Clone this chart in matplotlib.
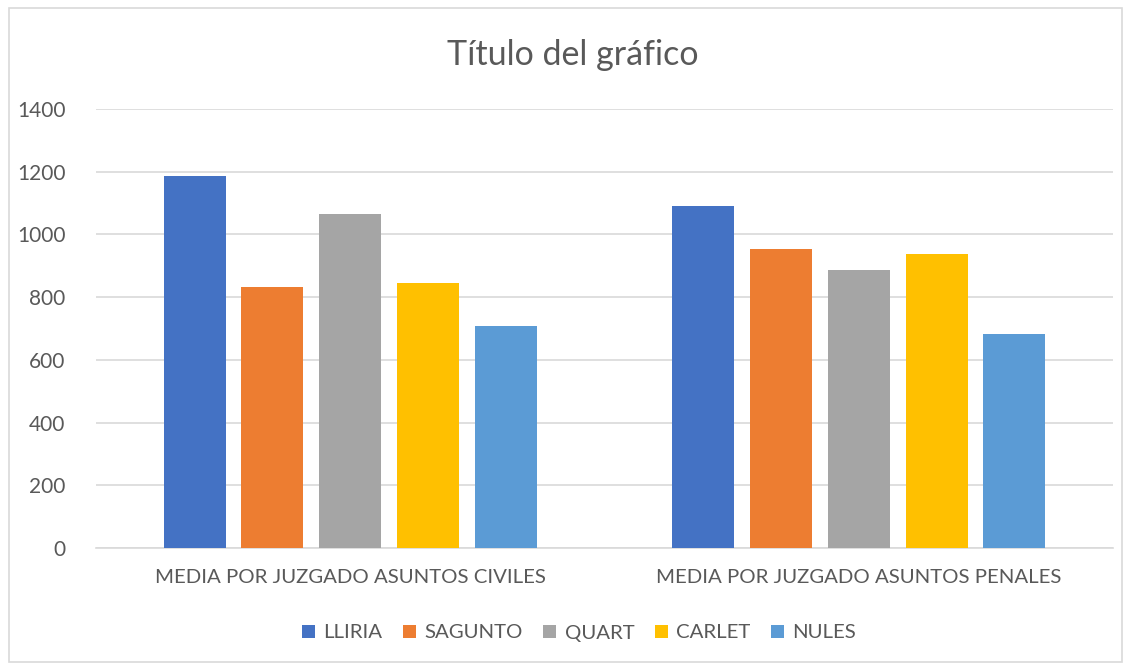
import matplotlib.pyplot as plt
import numpy as np
from matplotlib.patches import Rectangle

plt.rcParams['font.family'] = ['Lato', 'DejaVu Sans']

categories = ['MEDIA POR JUZGADO ASUNTOS CIVILES', 'MEDIA POR JUZGADO ASUNTOS PENALES']
series = ['LLIRIA', 'SAGUNTO', 'QUART', 'CARLET', 'NULES']
lliria = [1185, 1091]
sagunto = [833, 952]
quart = [1066, 886]
carlet = [844, 938]
nules = [707, 682]
colors = ['#4472C4', '#ED7D31', '#A5A5A5', '#FFC000', '#5B9BD5']

text_col = '#595959'
fig = plt.figure(figsize=(11.31, 6.66), dpi=100)
fig.patches.append(Rectangle((9 / 1131, 4 / 666), 1113 / 1131, 654 / 666, transform=fig.transFigure,
                             fill=False, edgecolor='#D9D9D9', linewidth=1.2))
ax = fig.add_axes([96 / 1131, 1 - 548 / 666, 1017 / 1131, 439 / 666])

x = np.arange(len(categories))
width = 0.122
pitch = 0.153
for i, (name, vals) in enumerate(zip(series, [lliria, sagunto, quart, carlet, nules])):
    ax.bar(x + (i - 2) * pitch, vals, width, color=colors[i], label=name, zorder=3)

ax.set_xlim(-0.5, 1.5)
ax.set_ylim(0, 1400)
ax.set_yticks(range(0, 1401, 200))
ax.yaxis.grid(True, color='#D9D9D9', linewidth=1.2, zorder=0)
ax.set_xticks(x)
ax.set_xticklabels(categories, fontsize=14.7)
for s in ['top', 'right', 'left']:
    ax.spines[s].set_visible(False)
ax.spines['bottom'].set_color('#D9D9D9')
ax.spines['bottom'].set_linewidth(1.2)
ax.tick_params(axis='both', length=0, colors=text_col)
ax.tick_params(axis='y', labelsize=15, pad=22)
ax.tick_params(axis='x', pad=15)

fig.text(573 / 1131, 1 - 55 / 666, 'Título del gráfico', ha='center', va='center', fontsize=24.5, color=text_col)

ax.legend(loc='center', bbox_to_anchor=((579 - 96) / 1017, (548 - 633) / 439), ncol=5, frameon=False,
          fontsize=14.7, labelcolor=text_col, handlelength=0.65, handleheight=0.65,
          handletextpad=0.4, columnspacing=1.0)

plt.savefig('out.png', dpi=100)
